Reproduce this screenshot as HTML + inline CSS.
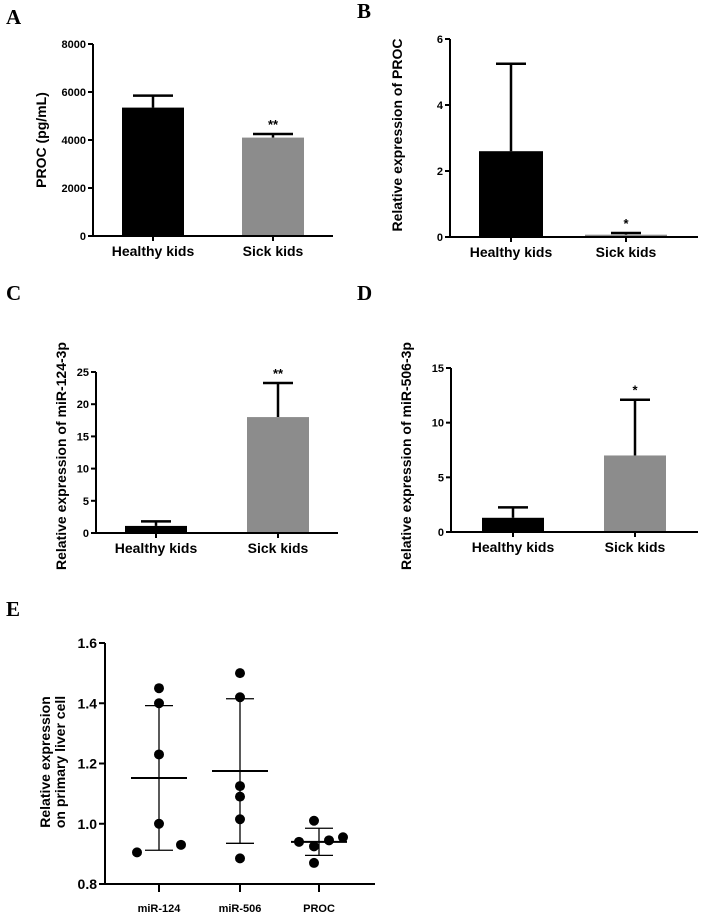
<!DOCTYPE html>
<html><head><meta charset="utf-8"><style>
body{margin:0;background:#fff}
svg{display:block;font-family:"Liberation Sans",Arial,sans-serif;font-weight:bold}
.pl{font-family:"Liberation Serif",serif;font-size:21px;font-weight:bold}
</style></head><body>
<svg id="fig" width="710" height="916" xmlns="http://www.w3.org/2000/svg">
<text class="pl" x="6" y="24">A</text>
<text class="pl" x="357" y="18">B</text>
<text class="pl" x="6" y="300">C</text>
<text class="pl" x="357" y="300">D</text>
<text class="pl" x="6" y="616">E</text>
</svg>
<script>
const NS="http://www.w3.org/2000/svg";
const svg=document.getElementById('fig');
const categories=["Healthy kids","Sick kids"];
const aValues=[5350,4100], aErr=[5850,4250], aTicks=[0,2000,4000,6000,8000], aSig=["","**"];
const bValues=[2.6,0.07], bErr=[5.25,0.12], bTicks=[0,2,4,6], bSig=["","*"];
const cValues=[1.1,18], cErr=[1.8,23.3], cTicks=[0,5,10,15,20,25], cSig=["","**"];
const dValues=[1.3,7.0], dErr=[2.25,12.1], dTicks=[0,5,10,15], dSig=["","*"];
const eCategories=["miR-124","miR-506","PROC"];
const eTicks=[0.8,1.0,1.2,1.4,1.6];
const ePoints124=[1.45,1.40,1.23,1.00,0.905,0.93];
const ePoints506=[1.50,1.42,1.125,1.09,1.015,0.885];
const ePointsProc=[1.01,0.94,0.925,0.945,0.955,0.87];
const eMean=[1.152,1.175,0.94];
const eSD=[0.24,0.24,0.045];

function el(tag,attrs,parent){const e=document.createElementNS(NS,tag);for(const k in attrs)e.setAttribute(k,attrs[k]);(parent||svg).appendChild(e);return e;}
function line(x1,y1,x2,y2,w,g){return el('line',{x1,y1,x2,y2,stroke:'#000','stroke-width':w||2},g);}

function barChart(o){
  const g=el('g',{});
  
  
  const max=o.ticks[o.ticks.length-1];
  const Y=v=>o.y0-(v/max)*(o.y0-o.yTop);
  o.values.forEach((v,i)=>{
    const cx=o.centers[i];
    const bw=Array.isArray(o.bw)?o.bw[i]:o.bw;
    const eb=line(cx,Y(v),cx,Y(o.err[i]),2.5,g);
    
    
    const cap=line(cx-o.cap,Y(o.err[i]),cx+o.cap,Y(o.err[i]),2.5,g);
    
    
    const r=el('rect',{x:cx-bw/2,y:Y(v),width:bw,height:o.y0-Y(v),fill:i==0?'#000':'#8c8c8c'},g);
    
    
    if(o.sig[i]){const t=el('text',{x:cx,y:Y(o.err[i])-5,'text-anchor':'middle','font-size':13},g);t.textContent=o.sig[i];
      
      }
    line(cx,o.y0,cx,o.y0+5,2,g);
    const lb=el('text',{x:cx,y:o.y0+20,'text-anchor':'middle','font-size':14},g);lb.textContent=categories[i];
    
    
  });
  line(o.ax,o.yTop,o.ax,o.y0+1,2,g);
  line(o.ax-1,o.y0,o.xEnd,o.y0,2,g);
  o.ticks.forEach(t=>{
    line(o.ax-5,Y(t),o.ax,Y(t),2,g);
    const tl=el('text',{x:o.ax-7,y:Y(t)+4,'text-anchor':'end','font-size':11},g);tl.textContent=t;
    
    
  });
  const yl=el('text',{x:o.lx,y:o.ly,'text-anchor':'middle','font-size':14,transform:`rotate(-90 ${o.lx} ${o.ly})`},g);yl.textContent=o.label;
  
  
}
barChart({name:'chart-a',values:aValues,err:aErr,ticks:aTicks,sig:aSig,ax:93,y0:236,yTop:44,xEnd:333,centers:[153,273],bw:62,cap:20,lx:46,ly:140,label:'PROC (pg/mL)'});
barChart({name:'chart-b',values:bValues,err:bErr,ticks:bTicks,sig:bSig,ax:450,y0:237,yTop:39,xEnd:698,centers:[511,626],bw:[64,82],cap:15,lx:402,ly:135,label:'Relative expression of PROC'});
barChart({name:'chart-c',values:cValues,err:cErr,ticks:cTicks,sig:cSig,ax:96,y0:533,yTop:372,xEnd:338,centers:[156,278],bw:62,cap:15,lx:66,ly:456,label:'Relative expression of miR-124-3p'});
barChart({name:'chart-d',values:dValues,err:dErr,ticks:dTicks,sig:dSig,ax:451,y0:532,yTop:368,xEnd:698,centers:[513,635],bw:62,cap:15,lx:411,ly:456,label:'Relative expression of miR-506-3p'});

// Panel E
(function(){
  const g=el('g',{});
  
  
  const ax=105,y0=884,yTop=643,xEnd=375,centers=[159,240,319];
  const Y=v=>y0-(v-0.8)/(0.8)*(y0-yTop);
  const groups=[ePoints124,ePoints506,ePointsProc];
  const jit=[[0,0,0,0,-22,22],[0,0,0,0,0,0],[-5,-20,-5,10,24,-5]];
  groups.forEach((pts,i)=>{
    const cx=centers[i];
    const m=eMean[i],s=eSD[i];
    const w=line(cx,Y(m+s),cx,Y(m-s),1.3,g);
    
    
    line(cx-14,Y(m+s),cx+14,Y(m+s),1.3,g);
    line(cx-14,Y(m-s),cx+14,Y(m-s),1.3,g);
    const ml=line(cx-28,Y(m),cx+28,Y(m),2,g);
    
    
    pts.forEach((v,j)=>{
      const c=el('circle',{cx:cx+jit[i][j],cy:Y(v),r:5,fill:'#000'},g);
      
      
    });
    line(cx,y0,cx,y0+8,2,g);
    const lb=el('text',{x:cx,y:y0+28,'text-anchor':'middle','font-size':11},g);lb.textContent=eCategories[i];
    
    
  });
  line(ax,yTop,ax,y0+1,2,g);
  line(ax-1,y0,xEnd,y0,2,g);
  eTicks.forEach(t=>{
    line(ax-6,Y(t),ax,Y(t),2,g);
    const tl=el('text',{x:ax-8,y:Y(t)+5,'text-anchor':'end','font-size':14},g);tl.textContent=t.toFixed(1);
    
    
  });
  const yl=el('text',{x:0,y:0,'text-anchor':'middle','font-size':14,transform:'translate(50 762) rotate(-90)'},g);
  
  
  const t1=el('tspan',{x:0,dy:0},yl);t1.textContent='Relative  expression';
  const t2=el('tspan',{x:0,dy:15},yl);t2.textContent='on primary liver cell';
})();
</script>
</body></html>
